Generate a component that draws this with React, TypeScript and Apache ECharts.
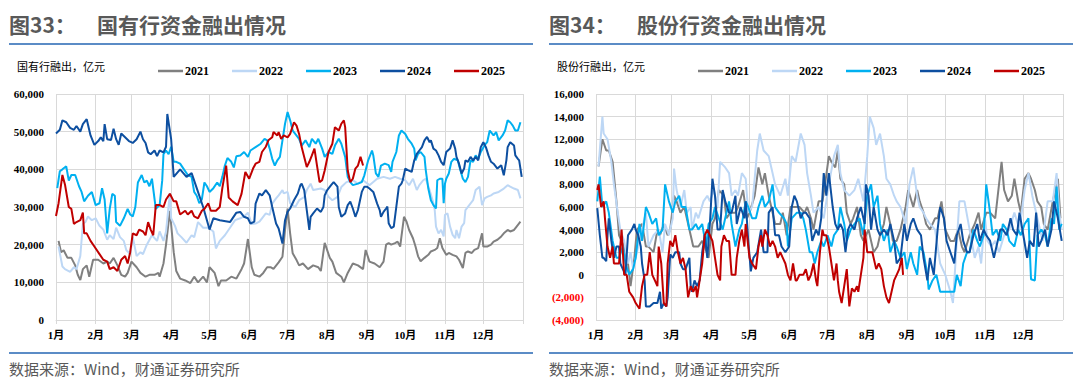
import React, { useEffect, useRef } from "react";
import * as echarts from "echarts";

// ---------- axes / labels ----------
const DAYS = Array.from({ length: 366 }, (_, i) => String(i));
const MONTH_STARTS = [0, 31, 59, 90, 120, 151, 181, 212, 243, 273, 304, 334];
const MONTH_LABELS = ["1月", "2月", "3月", "4月", "5月", "6月", "7月", "8月", "9月", "10月", "11月", "12月"];
const YEARS = ["2021", "2022", "2023", "2024", "2025"];
const COLORS = ["#808080", "#BDD7F5", "#00B0F0", "#0D4FA0", "#C00000"];

// ---------- 国有行融出 (亿元), [day of year, value] ----------
const soe2021: [number, number][] = [[2,21000],[4,18000],[6,18500],[9,16500],[12,16500],[15,14500],[17,12000],[19,10600],[21,13500],[24,14500],[26,11500],[29,16000],[33,16000],[37,15000],[40,15500],[42,15000],[45,16500],[48,14500],[51,12000],[54,11500],[56,12500],[59,15500],[63,14000],[66,12500],[70,11500],[73,12000],[77,12000],[80,12500],[81,11500],[84,15000],[86,20000],[89,29000],[92,18000],[94,13000],[97,11000],[101,10500],[105,9800],[108,11500],[111,10000],[115,11500],[118,10000],[120,14000],[124,12500],[127,9000],[129,10500],[133,10500],[137,11500],[141,11000],[145,13500],[147,15000],[150,21500],[153,14000],[155,12000],[159,11500],[162,12500],[165,14000],[168,14000],[170,13600],[174,15300],[177,16800],[179,23900],[181,29600],[183,23000],[185,17700],[188,15900],[190,14500],[193,15000],[197,13500],[201,14500],[205,14000],[207,13000],[210,20500],[212,18500],[214,16500],[216,15500],[219,12500],[223,11500],[225,10000],[228,12500],[232,15000],[236,14500],[240,13500],[242,18600],[245,15500],[249,15000],[253,14000],[256,15500],[258,20000],[260,20400],[262,20000],[265,20400],[267,20800],[269,19500],[270,22200],[272,27400],[274,26100],[276,23900],[279,21700],[281,19500],[283,16900],[285,15600],[288,16500],[291,17300],[293,18200],[296,18600],[298,19100],[300,21700],[302,19100],[305,17300],[307,17800],[310,17300],[313,16900],[315,16000],[318,13800],[320,17800],[322,18200],[325,17800],[327,18600],[330,19100],[333,23000],[334,19500],[337,19500],[340,20000],[342,20800],[345,21300],[348,22200],[350,23000],[353,23900],[355,23500],[358,23900],[360,24800],[363,26100]];
const soe2022: [number, number][] = [[2,19500],[5,14200],[7,13500],[11,12800],[14,14000],[16,13500],[19,17000],[21,25500],[23,26000],[25,27500],[28,26500],[31,27000],[34,25000],[37,24000],[40,21300],[42,22500],[45,21500],[47,24500],[50,22000],[53,21000],[55,18500],[58,17500],[60,22000],[63,17000],[66,18000],[68,17500],[71,20000],[75,22500],[79,21000],[81,23500],[84,21000],[86,23500],[89,33700],[90,27000],[93,25000],[95,23000],[98,22000],[102,20500],[106,22500],[108,22000],[111,26000],[115,24500],[119,24500],[123,23500],[125,19000],[128,21000],[132,22500],[136,24500],[140,26500],[144,27000],[147,27500],[150,28500],[153,25500],[156,25600],[159,26100],[161,27000],[164,28300],[167,27900],[169,30900],[172,32300],[174,33100],[177,34500],[178,33600],[181,34000],[183,31000],[187,30000],[190,31800],[194,32600],[196,34500],[199,36200],[201,34500],[207,34900],[210,34500],[213,32700],[216,31800],[220,32700],[223,35300],[227,36600],[232,37100],[236,36200],[240,37100],[245,35800],[251,37500],[256,38000],[261,37500],[265,38000],[269,37500],[273,37100],[276,35800],[279,37500],[282,34500],[284,35800],[287,37100],[289,37500],[292,34500],[295,31000],[296,29200],[297,24800],[299,23000],[301,23900],[303,22200],[304,27900],[306,28300],[308,24800],[310,22600],[312,21700],[313,23900],[315,21700],[317,24800],[319,25700],[320,29200],[323,30500],[326,31800],[328,34500],[331,35400],[333,30500],[335,32300],[337,32700],[340,33100],[342,33600],[346,34000],[350,34900],[353,35800],[355,35400],[358,34900],[361,34500],[363,32300]];
const soe2023: [number, number][] = [[1,35000],[3,39500],[5,40000],[8,40800],[10,37000],[12,38500],[15,38500],[18,35500],[20,34000],[22,31500],[25,33000],[28,34000],[31,30500],[34,31000],[36,35000],[38,32000],[40,23000],[42,29500],[44,33500],[46,33000],[47,26000],[50,25000],[53,27000],[56,29500],[58,28000],[60,27500],[62,30000],[64,36500],[67,38500],[69,36500],[71,37000],[73,35500],[75,37500],[78,29500],[81,30500],[83,37000],[84,44000],[86,45000],[88,44000],[90,46000],[92,42000],[94,42000],[97,41500],[100,40000],[103,38500],[106,38000],[108,34000],[110,33000],[112,31000],[114,32000],[116,36500],[118,35500],[120,34000],[123,35000],[126,36500],[128,35500],[130,38000],[132,41000],[134,43000],[137,42000],[139,40500],[141,43500],[144,43700],[147,44600],[150,43300],[152,45000],[156,45900],[160,46800],[163,48100],[165,47700],[167,45500],[169,42800],[171,41000],[173,42400],[175,43300],[177,47700],[179,52100],[181,55200],[183,53000],[185,50300],[187,49400],[190,48100],[192,46300],[195,47700],[198,45900],[200,48100],[203,46800],[205,48100],[208,45500],[210,43300],[213,44600],[216,44100],[218,46300],[221,48100],[223,46800],[226,43300],[228,38000],[230,36600],[232,35800],[236,36200],[239,36600],[241,38400],[244,42400],[247,45000],[248,43700],[250,38900],[252,38000],[254,41000],[257,41500],[260,41100],[262,39300],[263,42000],[266,44600],[268,49000],[270,50300],[273,49400],[275,48100],[278,46800],[280,45500],[281,42400],[283,44100],[285,44600],[288,43300],[289,39800],[291,34900],[293,31800],[295,30500],[297,29600],[298,37100],[300,37500],[302,37500],[303,31000],[304,36200],[305,37500],[307,38900],[309,42000],[311,42800],[314,42400],[316,39800],[318,37500],[320,36600],[322,38000],[324,42400],[326,42000],[328,43700],[330,42800],[332,44600],[335,46400],[337,47200],[339,50300],[342,49000],[344,49900],[346,47700],[349,49000],[351,50300],[353,53000],[355,52500],[357,51600],[359,50300],[361,50300],[363,52500]];
const soe2024: [number, number][] = [[0,49500],[3,50500],[5,53000],[8,52500],[11,51000],[14,50500],[16,51500],[19,50000],[21,52000],[24,53300],[27,49000],[30,46500],[33,47500],[35,48500],[37,47500],[38,52000],[40,48000],[43,47800],[45,50800],[47,48000],[49,46500],[51,49500],[54,48500],[57,47500],[60,47000],[63,48000],[66,50000],[68,48000],[70,47000],[72,44500],[74,44000],[77,45000],[79,43500],[81,45000],[84,44500],[86,46000],[87,54700],[90,48000],[92,38000],[97,40000],[102,38000],[106,39000],[110,35000],[115,30000],[120,24000],[123,27000],[128,26500],[136,26000],[141,28500],[144,28700],[147,27400],[150,27000],[152,25600],[155,26100],[156,30900],[159,33600],[161,33100],[164,34500],[167,33100],[169,30000],[172,25600],[174,24300],[177,20300],[179,26500],[181,28700],[183,29600],[186,31800],[189,33600],[191,35800],[192,36200],[194,34500],[196,29200],[198,23900],[199,27400],[201,28300],[204,29600],[207,28700],[209,30000],[210,33100],[212,34500],[215,35800],[217,36600],[220,35400],[221,30000],[223,27400],[226,28300],[228,30500],[230,31400],[232,29600],[234,27400],[236,29200],[239,34000],[241,35400],[243,35400],[245,34900],[248,34000],[251,30900],[253,29200],[254,27400],[256,28700],[258,29600],[259,30100],[260,25700],[262,24400],[264,24800],[266,30100],[268,35400],[270,36200],[271,37100],[273,40200],[275,39800],[278,39300],[280,42400],[282,44100],[284,45000],[286,45900],[288,47700],[290,48600],[292,47200],[293,47700],[295,45500],[297,45000],[299,43700],[301,42000],[303,41100],[305,44600],[308,45500],[310,47700],[312,45500],[313,43300],[315,41500],[317,38900],[319,40200],[320,42400],[322,42000],[324,43300],[326,42400],[328,43300],[330,42400],[332,45900],[334,47200],[336,45900],[338,43700],[340,42000],[342,41500],[345,40200],[348,41100],[350,38400],[352,42400],[353,45900],[355,47200],[358,46300],[359,43700],[361,42800],[362,42400],[364,38000]];
const soe2025: [number, number][] = [[0,27600],[2,31000],[5,38500],[7,36000],[10,30000],[12,29500],[14,25500],[16,26000],[19,26500],[21,28500],[22,23000],[24,23000],[27,21000],[30,19500],[34,17500],[37,16000],[40,15500],[42,13500],[45,14000],[48,13000],[51,16000],[54,17000],[56,15000],[58,18000],[60,23000],[63,22500],[65,24000],[68,23500],[70,22500],[72,26000],[74,24000],[76,22500],[78,30500],[81,30500],[84,30000],[86,32000],[89,33500],[92,31500],[94,31500],[97,28000],[101,29000],[103,28000],[106,29000],[108,27500],[111,27000],[114,29000],[116,29500],[119,31000],[121,29000],[125,29000],[128,30000],[130,35000],[133,41000],[135,32500],[138,31500],[142,30500],[145,33500],[148,39300],[151,37500],[154,40200],[156,41500],[159,42000],[161,44600],[164,46000],[166,47700],[169,48500],[170,49900],[173,49000],[174,49900],[176,48100],[178,49000],[181,48500],[183,49400],[186,52500],[188,51600],[190,49400],[192,45900],[194,43300],[196,40600],[198,42000],[200,43700],[202,45500],[204,41000],[206,36600],[208,37100],[210,39700],[213,44600],[216,46800],[218,51200],[221,50300],[223,52100],[225,53000],[226,51200],[227,45500],[228,39700],[230,36600],[232,37500],[234,40200],[236,41000],[238,43300],[240,41000]];

// ---------- 股份行融出 (亿元), [day of year, value] ----------
const jsb2021: [number, number][] = [[2,9600],[5,12000],[8,11000],[10,11000],[13,10000],[16,6500],[18,3500],[22,2500],[25,1000],[27,-1000],[30,1500],[32,4000],[36,4500],[39,2500],[41,2500],[45,2000],[48,4000],[50,3500],[53,4500],[56,3500],[58,4000],[61,7000],[63,6500],[66,5500],[69,6000],[71,5000],[74,3500],[76,2500],[80,2500],[83,3000],[85,2500],[88,1500],[91,4500],[93,5000],[96,7500],[100,7000],[102,5000],[105,5500],[109,5500],[111,6000],[115,7500],[118,5000],[120,5500],[124,7000],[127,9500],[130,8000],[132,9000],[135,7000],[137,6000],[140,4500],[144,4500],[146,5500],[149,3500],[152,6000],[156,6000],[159,6000],[163,5500],[165,6000],[168,5000],[170,4000],[174,6500],[177,6500],[179,8000],[182,10500],[184,10000],[187,9500],[189,11000],[191,8500],[194,8000],[196,5500],[199,4500],[201,5000],[204,6000],[207,3500],[209,3000],[213,4000],[217,2000],[220,2500],[222,3500],[225,4500],[227,6000],[230,4500],[232,3000],[235,3000],[238,4000],[242,6000],[244,7500],[248,6000],[251,7500],[253,6500],[256,5500],[258,4500],[261,4000],[265,5000],[267,5000],[270,6500],[273,4000],[277,3000],[280,3000],[283,4000],[286,2500],[288,2000],[292,3500],[296,4500],[299,5500],[301,4000],[305,5500],[308,5500],[312,5000],[314,7000],[317,10000],[319,7500],[322,6500],[325,7000],[327,8500],[330,6500],[332,5500],[335,8500],[338,9000],[340,8500],[343,7500],[345,6500],[348,6000],[350,4500],[353,4000],[357,6500],[361,8500],[363,5000]];
const jsb2022: [number, number][] = [[2,9600],[5,14000],[6,12500],[9,12000],[12,10000],[14,8000],[17,5500],[19,4000],[22,3000],[25,1000],[27,2000],[29,500],[31,1500],[35,3500],[39,5500],[41,2500],[45,3500],[49,4000],[52,2000],[54,4500],[57,3500],[60,5000],[61,9400],[63,7500],[66,6000],[69,7500],[71,5500],[74,6000],[75,4000],[78,5500],[80,5000],[84,6500],[87,7000],[89,6500],[92,7500],[95,6000],[97,10000],[101,9500],[104,9000],[106,7000],[109,7500],[111,7000],[114,9000],[117,8500],[119,5500],[122,6000],[126,11000],[128,12500],[131,11000],[135,10500],[137,9500],[140,8000],[144,7000],[148,8500],[150,7000],[153,10500],[156,10000],[160,12500],[163,11500],[165,9000],[168,7000],[170,5500],[174,6000],[178,5000],[182,8000],[186,10500],[189,11500],[191,9000],[194,7500],[198,7000],[202,7500],[205,8500],[209,6500],[212,10500],[214,14000],[217,13000],[219,11500],[222,12500],[225,10500],[227,8500],[230,8000],[233,7000],[235,6500],[238,6000],[242,4500],[245,8000],[248,9500],[251,7000],[253,6000],[256,5500],[258,5000],[261,4500],[265,4000],[269,1000],[273,0],[277,-1500],[279,-2500],[282,3000],[284,6500],[288,6500],[292,4000],[296,1500],[299,2500],[301,1000],[304,5000],[306,3000],[309,2500],[312,3000],[315,2000],[319,3500],[323,4000],[327,5500],[331,4000],[335,7500],[338,9000],[341,7000],[345,5000],[349,3000],[353,6500],[357,6500],[360,9000],[362,5500],[364,4000]];
const jsb2023: [number, number][] = [[1,6500],[3,8700],[5,6000],[8,6500],[10,5500],[13,3000],[16,1500],[18,1500],[21,2500],[23,1000],[26,0],[29,500],[31,1500],[34,4500],[36,3000],[39,6000],[41,5500],[44,4500],[47,5000],[49,3500],[52,4000],[54,8000],[57,6500],[60,5500],[62,6500],[65,7000],[67,6000],[70,6000],[73,4000],[75,4000],[78,4500],[80,4000],[83,4500],[86,2500],[88,4500],[91,5000],[93,6000],[96,5000],[99,4000],[101,5000],[104,6500],[106,4500],[109,2500],[112,4000],[114,4500],[117,6500],[119,6000],[122,5000],[125,5000],[127,6000],[130,7000],[132,6000],[135,6500],[138,8000],[140,6000],[143,5500],[147,5000],[149,4500],[150,2500],[153,5000],[157,5500],[160,5500],[162,5000],[164,4000],[167,2000],[169,2000],[171,1000],[173,2000],[176,3000],[178,2500],[181,3500],[184,2500],[186,3500],[189,4000],[191,6000],[194,4500],[196,3000],[199,4000],[202,4500],[206,5000],[209,3500],[212,7000],[215,8000],[217,6000],[220,7000],[222,4500],[225,3000],[228,4000],[230,2000],[233,3000],[235,2500],[238,1500],[241,2000],[243,500],[246,2000],[248,1000],[251,0],[253,2500],[256,2000],[259,0],[260,-1300],[263,-500],[266,0],[269,-1500],[273,-1500],[277,-1500],[280,-1500],[282,0],[285,-1000],[287,1000],[290,2000],[292,2000],[295,4000],[298,3000],[300,2500],[303,3500],[305,8000],[308,5500],[310,3500],[313,4000],[316,3000],[318,4500],[321,4000],[323,3000],[327,2500],[330,4000],[332,3500],[335,4500],[338,5000],[340,-400],[343,-500],[345,3500],[348,4000],[351,3500],[353,2500],[356,5000],[358,4500],[360,7800],[362,4000],[364,4500]];
const jsb2024: [number, number][] = [[1,5900],[3,3500],[5,1500],[6,1500],[8,1200],[9,3500],[10,5000],[12,3000],[14,1500],[16,2500],[18,2500],[19,1000],[21,500],[23,0],[25,3500],[28,4000],[30,4500],[31,4000],[33,3500],[35,2500],[36,1000],[38,-500],[39,-2800],[42,-2800],[45,-2500],[48,-2500],[50,-1500],[51,-3000],[53,-2500],[55,-2800],[56,-2000],[58,1800],[60,1500],[62,2000],[65,2000],[66,1000],[68,500],[70,500],[73,1500],[74,-1000],[75,-1500],[77,-500],[79,-1000],[81,-500],[83,2000],[85,3500],[87,1500],[89,4500],[91,8500],[93,7000],[95,4000],[97,4000],[99,7500],[101,6500],[104,5500],[106,5500],[109,7000],[110,4500],[113,6000],[116,5000],[117,6500],[119,3000],[121,300],[123,1500],[126,2000],[129,4000],[131,2000],[134,2000],[135,5500],[138,6000],[140,3500],[143,3500],[145,2500],[148,2000],[151,2500],[153,6000],[155,7000],[157,6500],[160,5000],[162,5500],[164,5500],[167,5000],[169,3000],[172,4000],[174,3500],[176,5000],[178,9000],[180,7000],[182,9000],[185,6000],[187,4500],[189,4000],[191,4500],[193,4000],[195,2000],[197,4000],[199,4500],[202,4000],[204,5000],[207,6000],[210,4500],[211,8000],[213,7000],[215,4000],[217,6000],[220,4000],[222,3500],[225,4000],[228,3500],[230,4500],[233,3000],[235,1000],[238,1500],[241,4500],[243,3000],[246,4500],[248,5000],[251,4000],[254,3500],[256,1500],[259,-500],[261,1500],[264,0],[267,4000],[269,6000],[272,5000],[274,3000],[277,2000],[280,1000],[282,3500],[285,4500],[287,3000],[290,2000],[292,2000],[295,3500],[298,4500],[300,3000],[303,4000],[305,3500],[308,3000],[311,1500],[313,2500],[316,4000],[318,4000],[321,3500],[324,5000],[326,4000],[329,3500],[331,5500],[334,3500],[337,1500],[339,3000],[342,2500],[344,5500],[346,2500],[348,3000],[351,4000],[353,2500],[356,4000],[358,6500],[361,5000],[364,3000]];
const jsb2025: [number, number][] = [[1,7500],[2,8000],[4,6000],[6,6500],[7,5000],[9,2500],[11,1500],[13,2500],[14,1000],[16,1000],[18,1000],[20,4000],[22,0],[24,0],[26,-1500],[29,-2000],[31,-2500],[34,-3000],[36,-1000],[38,0],[40,0],[42,2000],[44,0],[46,-500],[48,-1000],[49,2500],[51,1000],[53,-2500],[55,-2800],[56,1000],[58,3000],[60,2500],[62,3500],[64,2000],[66,1000],[68,1500],[70,500],[72,-2000],[74,-1000],[76,-1500],[78,-1000],[79,-2000],[81,-500],[83,1000],[85,3500],[87,4000],[89,3500],[91,3000],[93,1500],[95,0],[97,-500],[98,2500],[100,3500],[102,3000],[104,3000],[106,0],[109,0],[110,1500],[112,3000],[114,4000],[116,2500],[117,4500],[120,1500],[122,1000],[125,500],[127,2500],[129,3500],[130,2500],[132,4000],[134,3500],[136,2500],[138,3000],[140,2500],[142,1500],[144,2000],[146,1500],[148,1000],[150,0],[152,-500],[154,1000],[156,-500],[157,-500],[159,0],[162,0],[164,500],[166,-500],[168,0],[170,1000],[172,-500],[173,-1000],[175,2000],[177,4000],[178,3500],[180,3500],[182,2500],[184,1000],[186,-500],[188,1000],[189,-500],[190,-1500],[192,-2500],[194,-1000],[196,500],[198,-2800],[200,-1200],[202,-1500],[204,-1000],[205,-1500],[207,0],[209,1500],[210,4000],[212,2000],[213,2000],[216,2000],[217,1500],[219,500],[221,1000],[223,500],[225,-1000],[227,-2000],[229,-2500],[231,-1500],[233,-500],[235,0],[237,500],[239,1500],[240,0]];

const SOE = [soe2021, soe2022, soe2023, soe2024, soe2025];
const JSB = [jsb2021, jsb2022, jsb2023, jsb2024, jsb2025];

const SERIF = '"Liberation Serif", "Times New Roman", "Noto Sans CJK SC", serif';
const CJK = '"Noto Sans CJK SC", "Noto Sans", sans-serif';

function fmtNum(v: number): string {
  const s = String(Math.abs(v)).replace(/\B(?=(\d{3})+(?!\d))/g, ",");
  return v < 0 ? `(${s})` : s;
}

function xAxisFor(gridIndex: number) {
  const isGrid = (i: number) => MONTH_STARTS.includes(i) || i === 365;
  return {
    type: "category",
    gridIndex,
    data: DAYS,
    boundaryGap: false,
    axisLine: { show: true, lineStyle: { color: "#D9D9D9", width: 1 } },
    axisTick: { show: true, interval: (i: number) => isGrid(i), length: 4, lineStyle: { color: "#D9D9D9" } },
    splitLine: { show: true, interval: (i: number) => isGrid(i), lineStyle: { color: "#D9D9D9", width: 1 } },
    axisLabel: {
      interval: (i: number) => MONTH_STARTS.includes(i),
      formatter: (v: string) => MONTH_LABELS[MONTH_STARTS.indexOf(Number(v))] ?? "",
      fontFamily: SERIF,
      fontWeight: "bold",
      fontSize: 11,
      color: "#000",
      margin: 9,
    },
  };
}

function yAxisFor(gridIndex: number, min: number, max: number, interval: number) {
  return {
    type: "value",
    gridIndex,
    min,
    max,
    interval,
    axisLine: { show: false },
    axisTick: { show: false },
    splitLine: { show: true, lineStyle: { color: "#D9D9D9", width: 1 } },
    axisLabel: {
      formatter: (v: number) => fmtNum(v),
      color: (v: any) => (Number(v) < 0 ? "#FF0000" : "#000"),
      fontFamily: SERIF,
      fontWeight: "bold",
      fontSize: 11,
      margin: 12,
    },
  };
}

function seriesFor(sets: [number, number][][], idx: number) {
  return sets.map((d, i) => ({
    name: YEARS[i],
    type: "line",
    xAxisIndex: idx,
    yAxisIndex: idx,
    data: d,
    symbol: "none",
    lineStyle: { width: 2, color: COLORS[i] },
    itemStyle: { color: COLORS[i] },
    z: 2 + i,
  }));
}

function legendFor(left: number) {
  return {
    left,
    top: 60,
    data: YEARS,
    icon: "rect",
    itemWidth: 25,
    itemHeight: 2.5,
    itemGap: 23,
    selectedMode: false,
    textStyle: { fontFamily: SERIF, fontWeight: "bold", fontSize: 12, color: "#000", padding: [0, 0, 0, -3] },
  };
}

function panelGraphics(x0: number, fig: string, title: string, unit: string) {
  return [
    { type: "text", left: x0 + 1, top: 13, style: { text: fig, fill: "#595959", fontFamily: CJK, fontWeight: "bold", fontSize: 21 } },
    { type: "text", left: x0 + 89, top: 13, style: { text: title, fill: "#595959", fontFamily: CJK, fontWeight: "bold", fontSize: 21 } },
    { type: "line", shape: { x1: x0 + 1, y1: 44, x2: x0 + 525, y2: 44 }, style: { stroke: "#5B8CC6", lineWidth: 2 } },
    { type: "text", left: x0 + 9, top: 60, style: { text: unit, fill: "#000", fontFamily: CJK, fontSize: 11 } },
    { type: "line", shape: { x1: x0 + 1, y1: 353, x2: x0 + 525, y2: 353 }, style: { stroke: "#5B8CC6", lineWidth: 2 } },
    { type: "text", left: x0 + 1, top: 361, style: { text: "数据来源：Wind，财通证券研究所", fill: "#595959", fontFamily: CJK, fontSize: 15 } },
  ];
}

export default function App() {
  const ref = useRef<HTMLDivElement>(null);
  useEffect(() => {
    if (!ref.current) return;
    const chart = echarts.init(ref.current, undefined, { renderer: "svg" });
    chart.setOption({
      animation: false,
      backgroundColor: "#fff",
      grid: [
        { left: 56, top: 94, width: 467, height: 226 },
        { left: 596, top: 94, width: 467, height: 226 },
      ],
      xAxis: [xAxisFor(0), xAxisFor(1)],
      yAxis: [yAxisFor(0, 0, 60000, 10000), yAxisFor(1, -4000, 16000, 2000)],
      legend: [legendFor(153), legendFor(693)],
      series: [...seriesFor(SOE, 0), ...seriesFor(JSB, 1)],
      graphic: [
        ...panelGraphics(8, "图33：", "国有行资金融出情况", "国有行融出，亿元"),
        ...panelGraphics(548, "图34：", "股份行资金融出情况", "股份行融出，亿元"),
      ],
    });
    return () => chart.dispose();
  }, []);
  return (
    <div
      ref={ref}
      style={{ position: "absolute", left: 0, top: 0, width: 1080, height: 384, background: "#fff" }}
    />
  );
}
